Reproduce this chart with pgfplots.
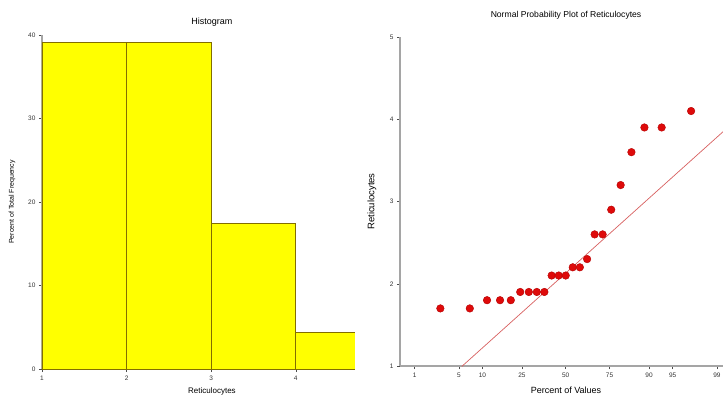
\documentclass[border=0pt]{standalone}
\usepackage{pgfplots}
\pgfplotsset{compat=1.18}
\usepackage{fontspec}
\setmainfont{Liberation Sans}
\definecolor{barfill}{RGB}{255,255,0}
\definecolor{baredge}{RGB}{130,110,0}
\definecolor{axgray}{RGB}{165,165,165}
\definecolor{dotred}{RGB}{222,10,10}
\definecolor{dotedge}{RGB}{180,0,0}
\definecolor{linered}{RGB}{215,95,95}
\pgfplotsset{
  common/.style={
    scale only axis,
    axis lines*=left,
    axis line style={axgray,line width=1.4pt},
    tick align=outside,
    major tick length=3pt,
    tick style={black!70,line width=0.5pt},
    ticklabel style={font=\fontsize{6.5}{7}\selectfont, text=black!80},
    /pgf/number format/assume math mode=true,
    clip=true,
  }
}
\begin{document}
\begin{tikzpicture}
\useasboundingbox (0,0) rectangle (723pt,397pt);
\clip (0,0) rectangle (723pt,397pt);
% Histogram
\begin{axis}[common,
  at={(42pt,28pt)}, anchor=south west,
  width=313pt, height=334pt,
  xmin=1, xmax=4.7, ymin=0, ymax=40,
  xtick={1,2,3,4}, ytick={0,10,20,30,40},
  title={Histogram},
  title style={font=\fontsize{9}{10}\selectfont, at={(axis description cs:0.543,1)}, anchor=center, yshift=7pt},
  xlabel={Reticulocytes},
  xlabel style={font=\fontsize{8}{9}\selectfont, at={(axis description cs:0.543,0)}, anchor=center, yshift=-22pt},
  ylabel={Percent of Total Frequency},
  ylabel style={font=\fontsize{7}{8}\selectfont, at={(axis description cs:-0.096,0.5)}, anchor=center, rotate=0},
]
\addplot[ybar interval, fill=barfill, draw=baredge, line width=0.7pt]
  coordinates {(1,39.13) (2,39.13) (3,17.39) (4,4.35) (5,4.35)};
\end{axis}
% Normal probability plot
\begin{axis}[common,
  at={(400pt,31pt)}, anchor=south west,
  width=323pt, height=329pt,
  xmin=-2.55, xmax=2.42, ymin=1, ymax=5,
  xtick={-2.326,-1.645,-1.2816,-0.674,0,0.674,1.2816,1.645,2.326},
  xticklabels={1,5,10,25,50,75,90,95,99},
  ytick={1,2,3,4,5},
  title={Normal Probability Plot of Reticulocytes},
  title style={font=\fontsize{8.6}{10}\selectfont, at={(axis description cs:0.514,1)}, anchor=center, yshift=16pt},
  xlabel={Percent of Values},
  xlabel style={font=\fontsize{9}{10}\selectfont, at={(axis description cs:0.514,0)}, anchor=center, yshift=-24.5pt},
  ylabel={Reticulocytes},
  ylabel style={font=\fontsize{9.5}{10}\selectfont, at={(axis description cs:-0.087,0.5)}, anchor=center, rotate=0},
]
\addplot[linered, line width=0.7pt] coordinates {(-1.60,0.994) (2.42,3.848)};
\addplot[only marks, mark=*, mark size=3.8pt, mark options={fill=dotred, draw=dotedge, line width=0.4pt}]
  table {
z y
-1.929 1.7
-1.476 1.7
-1.211 1.8
-1.011 1.8
-0.845 1.8
-0.700 1.9
-0.568 1.9
-0.445 1.9
-0.329 1.9
-0.217 2.1
-0.108 2.1
0.000 2.1
0.108 2.2
0.217 2.2
0.329 2.3
0.445 2.6
0.568 2.6
0.700 2.9
0.845 3.2
1.011 3.6
1.211 3.9
1.476 3.9
1.929 4.1
};
\end{axis}
\end{tikzpicture}
\end{document}
